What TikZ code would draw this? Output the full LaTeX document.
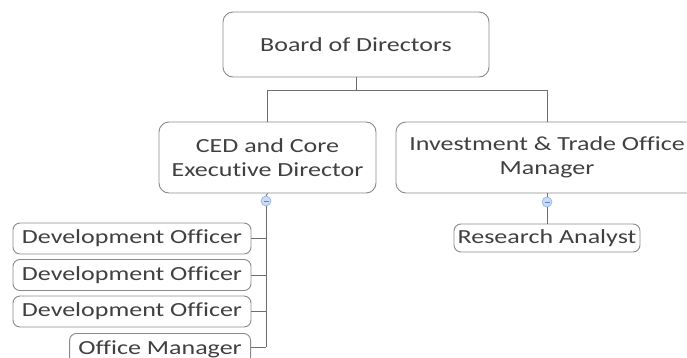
\documentclass[tikz,border=0pt]{standalone}
\usepackage{fontspec}
\setmainfont{Carlito}[FakeStretch=1.3, Ligatures=NoCommon]
\begin{document}
\begin{tikzpicture}[x=1pt,y=-1pt,
  font=\fontsize{20}{24}\selectfont,
  box/.style={draw=boxgray, rounded corners=7pt, text=txtgray, inner sep=0pt, align=center, line width=0.9pt},
  bigbox/.style={box, rounded corners=10pt},
  link/.style={draw=linegray, line width=0.9pt},
  toggle/.style={circle, draw=togborder, fill=togfill, minimum size=10pt, inner sep=0pt, line width=0.6pt,
    path picture={\draw[togminus, line width=0.8pt] ([xshift=-2.5pt]path picture bounding box.center) -- ([xshift=2.5pt]path picture bounding box.center);}}
]
\definecolor{boxgray}{HTML}{8A8A8A}
\definecolor{linegray}{HTML}{6E6E6E}
\definecolor{txtgray}{HTML}{404040}
\definecolor{togfill}{HTML}{C9DBF5}
\definecolor{togborder}{HTML}{8FB2E6}
\definecolor{togminus}{HTML}{5C86C8}
\useasboundingbox (0,0) rectangle (687,358);
\clip (0,0) rectangle (687,358);

% top level
\node[bigbox, minimum width=266pt, minimum height=65pt] (board) at (356,44.5) {Board of Directors};

% second level
\node[bigbox, minimum width=217pt, minimum height=71pt] (ced) at (267.5,157.5) {CED and Core\\Executive Director};
\node[bigbox, minimum width=302pt, minimum height=71pt] (inv) at (547,157.5) {Investment \& Trade Office\\Manager};

% expand/collapse toggles
\node[toggle] (tced) at (266,201) {};
\node[toggle] (tinv) at (547,202) {};

% leaves
\node[box, minimum width=186pt, minimum height=28pt] (ra) at (547,238) {Research Analyst};
\node[box, minimum width=238pt, minimum height=31pt] (do1) at (132,238.5) {Development Officer};
\node[box, minimum width=238pt, minimum height=31pt] (do2) at (132,275) {Development Officer};
\node[box, minimum width=238pt, minimum height=31pt] (do3) at (132,311.5) {Development Officer};
\node[box, minimum width=181pt, minimum height=31pt, anchor=north east] (om) at (251,333) {Office Manager};

% connectors from the board
\coordinate (bus) at (356,90.5);
\draw[link] (board.south) -- (bus);
\draw[link] (ced.north) |- (bus) -| (inv.north);

% connectors below the second level
\draw[link] (ced.south) -- (tced.north);
\draw[link] (inv.south) -- (tinv.north);
\draw[link] (tinv.south) -- (ra.north);
\coordinate (spine) at (266,347);
\draw[link] (tced.south) -- (spine);
\draw[link] (do1.east) -- (do1.east -| spine);
\draw[link] (do2.east) -- (do2.east -| spine);
\draw[link] (do3.east) -- (do3.east -| spine);
\draw[link] (om.east |- spine) -- (spine);
\end{tikzpicture}
\end{document}
